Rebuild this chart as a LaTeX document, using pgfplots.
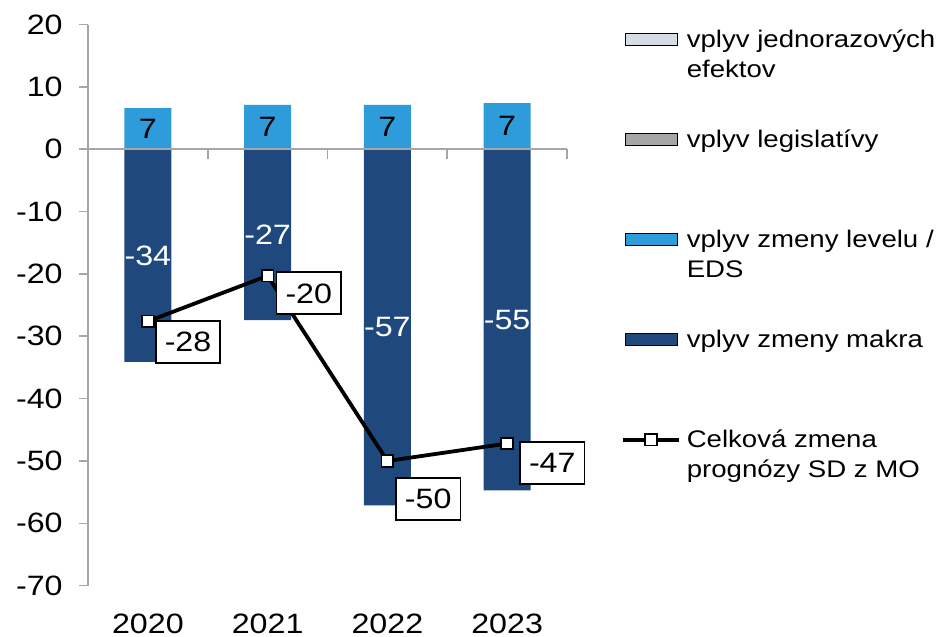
\documentclass[border=0pt]{standalone}
\usepackage{pgfplots}
\pgfplotsset{compat=1.18}
\usepackage{pgfplotstable}
\usepackage{fontspec}
\setmainfont{Liberation Sans}[FakeStretch=1.15]
\definecolor{makra}{HTML}{1F497D}
\definecolor{level}{HTML}{2E9BDB}
\definecolor{jedn}{HTML}{D5DCE4}
\definecolor{legis}{HTML}{A6A6A6}
\definecolor{axisgrey}{HTML}{A6A6A6}

\pgfplotstableread{
x makra level celk dx dy
0 -34.1 6.6 -27.6 3.5 0.75
1 -27.4 7.1 -20.3 4.0 2.15
2 -57.1 7.1 -50.0 3.85 -8.0
3 -54.7 7.4 -47.2 6.0 1.3
}\data

\pgfplotsset{
  barleg/.style={legend image code/.code={\fill[##1] (0pt,0.3pt) rectangle (26pt,6.3pt);}},
  lineleg/.style={legend image code/.code={\draw[##1, mark repeat=2, mark phase=2] plot coordinates {(-1.5pt,3.3pt) (12.5pt,3.3pt) (26.5pt,3.3pt)};}},
}

\begin{document}
\begin{tikzpicture}
\path[use as bounding box] (-44pt,-25.65pt) rectangle (427.5pt,292.85pt);
\begin{axis}[
  at={(0,0)}, anchor=south west,
  scale only axis, width=239.5pt, height=280.6pt,
  xmin=-0.5, xmax=3.5, ymin=-70, ymax=20,
  axis x line*=bottom, axis y line*=left,
  x axis line style={draw=none},
  y axis line style={axisgrey, line width=0.8pt},
  xtick={0,1,2,3}, xticklabels={2020,2021,2022,2023},
  xtick style={draw=none},
  ytick={-70,-60,-50,-40,-30,-20,-10,0,10,20},
  yticklabels={-70,-60,-50,-40,-30,-20,-10,0,10,20},
  ytick style={axisgrey, line width=0.8pt},
  tick align=outside, major tick length=4.5pt,
  tick label style={font=\fontsize{14}{16}\selectfont, text=black},
  yticklabel style={inner sep=0pt, xshift=-8pt},
  xticklabel style={yshift=-6pt},
  /pgf/number format/assume math mode=true,
  clip=false,
  legend style={at={(axis description cs:1.1127,0.9954)}, anchor=north west,
    draw=none, fill=none, inner sep=0pt, outer sep=0pt,
    row sep=30.7pt, column sep=3pt,
    font=\fontsize{12}{14.8}\selectfont,
    cells={anchor=west}, nodes={inner sep=0pt}},
  legend cell align=left,
]
\addlegendimage{barleg, fill=jedn}
\addlegendentry{\begin{tabular}{@{}l@{}}vplyv jednorazových\\efektov\end{tabular}}
\addlegendimage{barleg, fill=legis}
\addlegendentry{\begin{tabular}{@{}l@{}}vplyv legislatívy\\\mbox{}\end{tabular}}
\addlegendimage{barleg, fill=level}
\addlegendentry{\begin{tabular}{@{}l@{}}vplyv zmeny levelu /\\EDS\end{tabular}}
\addlegendimage{barleg, fill=makra}
\addlegendentry{\begin{tabular}{@{}l@{}}vplyv zmeny makra\\\mbox{}\end{tabular}}
\addlegendimage{lineleg, black, line width=1.9pt, mark=square*, mark size=2.9pt, mark options={fill=white, draw=black, line width=0.9pt}}
\addlegendentry{\begin{tabular}{@{}l@{}}Celková zmena\\prognózy SD z MO\end{tabular}}

% bars
\addplot[forget plot, ybar, bar width=23.5pt, bar shift=0pt, fill=level, draw=none]
  table[x=x, y=level] {\data};
\addplot[forget plot, ybar, bar width=23.5pt, bar shift=0pt, fill=makra, draw=none]
  table[x=x, y=makra] {\data};
% bar labels (centred in segment)
\addplot[forget plot, draw=none, mark=none, point meta=explicit,
  nodes near coords={\pgfmathprintnumber[fixed,precision=0]{\pgfplotspointmeta}},
  every node near coord/.append style={anchor=center, text=black, font=\fontsize{14}{16}\selectfont}]
  table[x=x, y expr=\thisrow{level}/2, meta=level] {\data};
\addplot[forget plot, draw=none, mark=none, point meta=explicit,
  nodes near coords={\pgfmathprintnumber[fixed,precision=0]{\pgfplotspointmeta}},
  every node near coord/.append style={anchor=center, text=white, font=\fontsize{14}{16}\selectfont}]
  table[x=x, y expr=\thisrow{makra}/2, meta=makra] {\data};
% zero line with ticks
\draw[axisgrey, line width=0.8pt] (axis cs:-0.5,0) -- (axis cs:3.5,0);
\pgfplotsinvokeforeach{-0.5,0.5,1.5,2.5,3.5}{\draw[axisgrey, line width=0.8pt] (axis cs:#1,0) -- ([yshift=-5pt]axis cs:#1,0);}
% total line
\addplot[forget plot, black, line width=1.9pt, mark=square*, mark size=2.9pt,
  mark options={fill=white, draw=black, line width=0.9pt},
  point meta=y,
  visualization depends on={\thisrow{dx} \as \dx},
  visualization depends on={\thisrow{dy} \as \dy},
  nodes near coords={\pgfmathprintnumber[fixed,precision=0]{\pgfplotspointmeta}},
  every node near coord/.append style={anchor=north west, xshift=\dx*1pt, yshift=\dy*1pt,
    draw=black, line width=0.9pt, fill=white, text=black, inner xsep=4.5pt, inner ysep=5.5pt,
    text height=10pt, text depth=0pt, font=\fontsize{14}{16}\selectfont}]
  table[x=x, y=celk] {\data};
\end{axis}
\end{tikzpicture}
\end{document}
